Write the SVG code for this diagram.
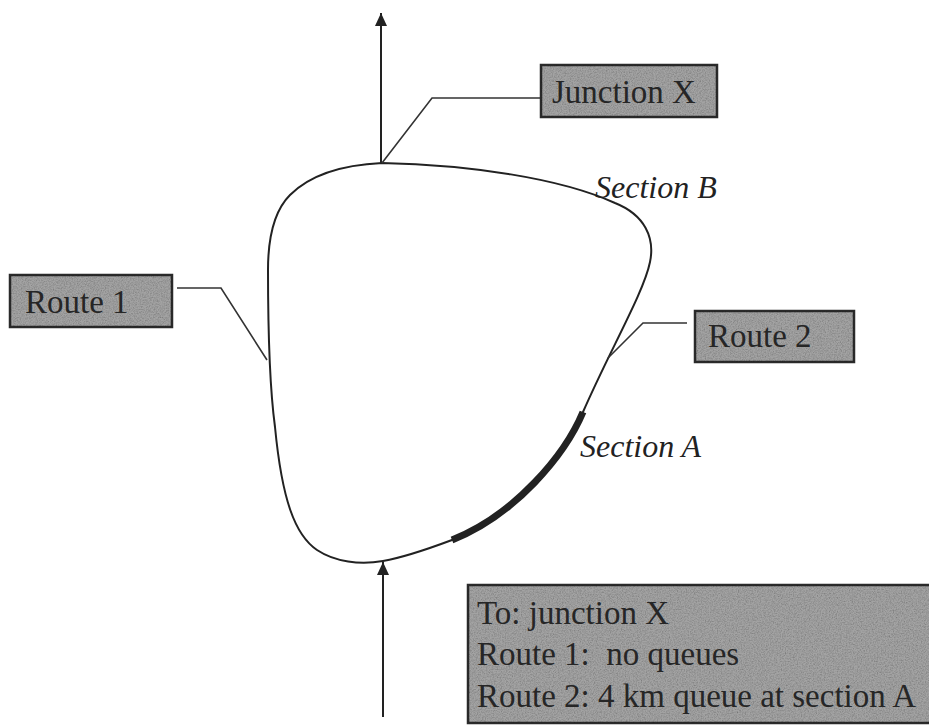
<svg xmlns="http://www.w3.org/2000/svg" width="929" height="725" viewBox="0 0 929 725">
  <style>
    .road { fill: none; stroke: #222; stroke-width: 2; stroke-linecap: round; stroke-linejoin: round; }
    .axis { fill: none; stroke: #222; stroke-width: 2; stroke-linecap: butt; }
    .queue { fill: none; stroke: #222; stroke-width: 7; stroke-linecap: butt; }
    .lead { fill: none; stroke: #333; stroke-width: 1.6; }
    .box { fill: #a3a3a3; stroke: #2a2a2a; stroke-width: 2.5; }
    .grain { fill: #000; filter: url(#grain); }
    .label { font-family: "Liberation Serif", "Times New Roman", serif; font-size: 33px; fill: #262626; }
    .sec { font-family: "Liberation Serif", "Times New Roman", serif; font-size: 32px; font-style: italic; fill: #222; }
  </style>
  <defs>
    <marker id="arrow" markerWidth="13" markerHeight="12" refX="13" refY="6" orient="auto" markerUnits="userSpaceOnUse" viewBox="0 0 13 12">
      <path d="M0,0 L13,6 L0,12 Z" fill="#222"/>
    </marker>
    <filter id="grain" x="0" y="0" width="1" height="1">
      <feTurbulence type="fractalNoise" baseFrequency="0.75" numOctaves="3" seed="7" result="noise"/>
      <feColorMatrix in="noise" type="matrix" values="0 0 0 0 0  0 0 0 0 0  0 0 0 0 0  0.7 0.7 0.7 0 -0.9" result="dots"/>
      <feComposite in="dots" in2="SourceAlpha" operator="in"/>
    </filter>
  </defs>
  <rect width="929" height="725" fill="#fff"/>

  <!-- ring road and approach roads -->
  <g id="connectors">
    <path id="ring" class="road" d="M382,163 C470,165 560,178 615,203 C645,215 655,238 650,262 C644,292 610,350 583,412 C565,455 515,515 452,540 C420,552 400,558 383,561 C360,565 335,562 317,550 C295,535 282,500 275,427 C270,390 268,330 268,270 C268,235 275,210 290,195 C310,175 340,165 382,163 Z"/>
    <path id="section-a-queue" class="queue" d="M583,412 C565,455 515,515 452,540"/>
    <line id="exit-north" class="axis" x1="381" y1="163" x2="381" y2="13" marker-end="url(#arrow)"/>
    <line id="entry-south" class="axis" x1="383" y1="717" x2="383" y2="562" marker-end="url(#arrow)"/>
    <polyline class="lead" points="382,163 432,98 541,98"/>
    <polyline class="lead" points="177,288 221,288 267,360"/>
    <polyline class="lead" points="687,323 643,323 608,358"/>
  </g>

  <g id="junction-x">
    <rect class="box" x="541" y="65" width="176" height="52"/>
    <rect class="grain" x="541" y="65" width="176" height="52" opacity="0.35"/>
    <text class="label" x="552" y="103">Junction X</text>
  </g>

  <g id="route-1">
    <rect class="box" x="10" y="275" width="162" height="52"/>
    <rect class="grain" x="10" y="275" width="162" height="52" opacity="0.35"/>
    <text class="label" x="25" y="313">Route 1</text>
  </g>

  <g id="route-2">
    <rect class="box" x="695" y="311" width="159" height="51"/>
    <rect class="grain" x="695" y="311" width="159" height="51" opacity="0.35"/>
    <text class="label" x="708" y="347">Route 2</text>
  </g>

  <g id="section-b">
    <text class="sec" x="595" y="198">Section B</text>
  </g>

  <g id="section-a">
    <text class="sec" x="580" y="457">Section A</text>
  </g>

  <g id="message">
    <rect class="box" x="468" y="585" width="470" height="138"/>
    <rect class="grain" x="468" y="585" width="470" height="138" opacity="0.35"/>
    <text class="label" x="477" y="624">To: junction X</text>
    <text class="label" x="477" y="665" xml:space="preserve">Route 1:  no queues</text>
    <text class="label" x="477" y="707">Route 2: 4 km queue at section A</text>
  </g>
</svg>
